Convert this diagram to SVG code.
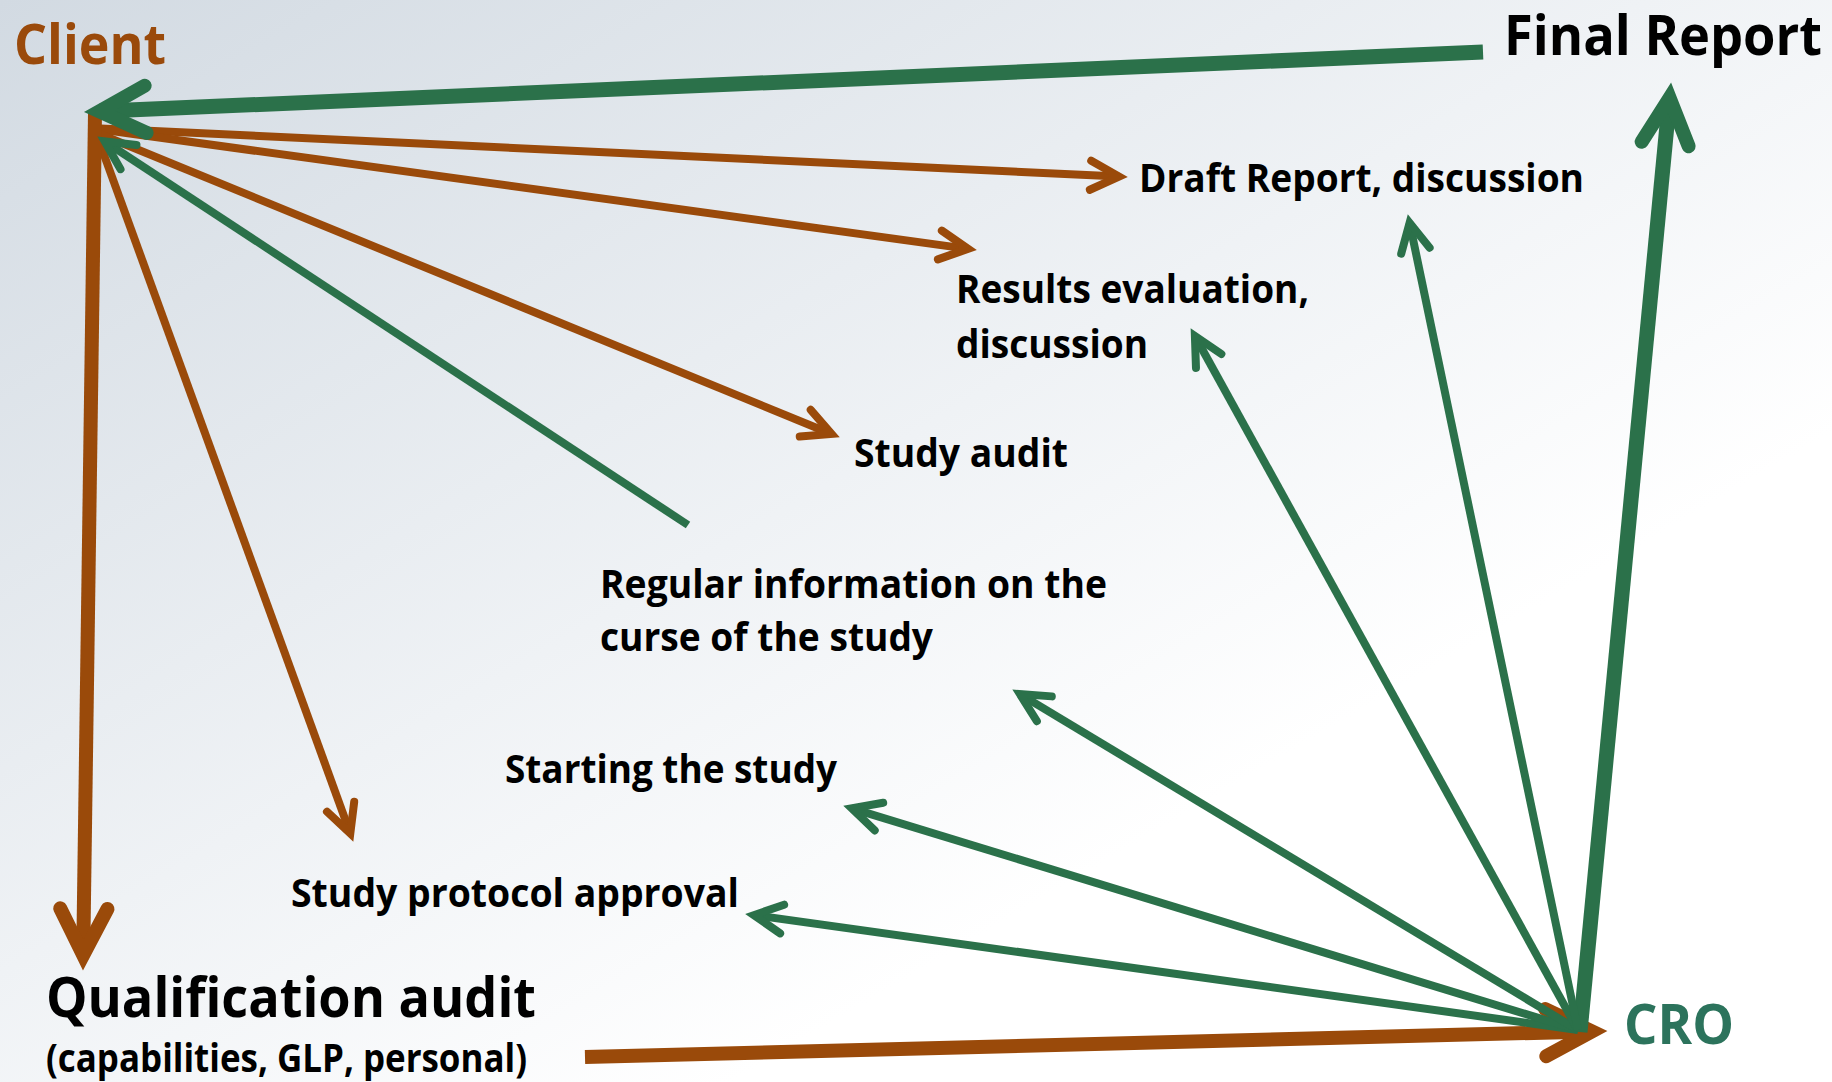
<svg xmlns="http://www.w3.org/2000/svg" width="1832" height="1082" viewBox="0 0 1832 1082">
  <defs>
    <linearGradient id="bg" x1="0" y1="0" x2="1" y2="1">
      <stop offset="0" stop-color="#D2DAE2"/>
      <stop offset="0.45" stop-color="#EFF2F5"/>
      <stop offset="0.7" stop-color="#FFFFFF"/>
      <stop offset="1" stop-color="#FFFFFF"/>
    </linearGradient>
    <marker id="ah-brown-thin" markerUnits="userSpaceOnUse" orient="auto" overflow="visible" markerWidth="10" markerHeight="10" refX="0" refY="0">
      <path d="M-28.5,-14.5 L0,0 L-28.5,14.5" class="ah brown" stroke-width="8"/>
    </marker>
    <marker id="ah-brown-thick" markerUnits="userSpaceOnUse" orient="auto" overflow="visible" markerWidth="10" markerHeight="10" refX="0" refY="0">
      <path d="M-46.3,-23.6 L0,0 L-46.3,23.6" class="ah brown" stroke-width="14"/>
    </marker>
    <marker id="ah-green-thin" markerUnits="userSpaceOnUse" orient="auto" overflow="visible" markerWidth="10" markerHeight="10" refX="0" refY="0">
      <path d="M-28.5,-14.5 L0,0 L-28.5,14.5" class="ah green" stroke-width="8"/>
    </marker>
    <marker id="ah-green-thick" markerUnits="userSpaceOnUse" orient="auto" overflow="visible" markerWidth="10" markerHeight="10" refX="0" refY="0">
      <path d="M-46.3,-23.6 L0,0 L-46.3,23.6" class="ah green" stroke-width="14"/>
    </marker>
  </defs>
  <style>
    .ah { fill: none; stroke-linecap: round; stroke-linejoin: miter; stroke-miterlimit: 4; }
    .ah.brown { stroke: #9A4A0A; }
    .ah.green { stroke: #2B714A; }
    .ln { fill: none; stroke-linecap: butt; }
    .b-thin { stroke: #9A4A0A; stroke-width: 8; marker-end: url(#ah-brown-thin); }
    .b-thick { stroke: #9A4A0A; stroke-width: 14; marker-end: url(#ah-brown-thick); }
    .g-thin { stroke: #2B714A; stroke-width: 8; marker-end: url(#ah-green-thin); }
    .g-thick { stroke: #2B714A; stroke-width: 15; marker-end: url(#ah-green-thick); }
    text { font-family: "Open Sans", "Noto Sans", "Liberation Sans", sans-serif; font-weight: bold; }
    .big { font-size: 56px; }
    .mid { font-size: 39px; }
    .lbl { fill: #000000; }
    .client { fill: #9A4A0B; }
    .cro { fill: #2C735C; }
  </style>

  <rect x="0" y="0" width="1832" height="1082" fill="url(#bg)"/>

  <g id="connectors">
    <!-- brown: Client side -->
    <line class="ln b-thin" x1="90" y1="128" x2="1119" y2="176.6"/>
    <line class="ln b-thin" x1="90" y1="128" x2="968.1" y2="248.9"/>
    <line class="ln b-thin" x1="90" y1="130" x2="831.6" y2="434"/>
    <line class="ln b-thin" x1="95" y1="130" x2="350.3" y2="833.5"/>
    <line class="ln b-thick" x1="95" y1="113" x2="83.2" y2="955"/>
    <line class="ln b-thick" x1="585" y1="1057" x2="1592" y2="1031.4"/>
    <!-- green: CRO side -->
    <line class="ln g-thick" x1="1483" y1="52" x2="99.4" y2="111.3"/>
    <line class="ln g-thick" x1="1580" y1="1032" x2="1669.6" y2="97.9"/>
    <line class="ln g-thin" x1="688" y1="525" x2="104.7" y2="141.4"/>
    <line class="ln g-thin" x1="1578" y1="1030" x2="753.9" y2="915.1"/>
    <line class="ln g-thin" x1="1578" y1="1030" x2="851.7" y2="808.3"/>
    <line class="ln g-thin" x1="1578" y1="1030" x2="1019.9" y2="694.1"/>
    <line class="ln g-thin" x1="1578" y1="1030" x2="1194.9" y2="336"/>
    <line class="ln g-thin" x1="1578" y1="1030" x2="1409.6" y2="222.8"/>
  </g>

  <g id="node-client">
    <text class="big client" x="14" y="64" textLength="152" lengthAdjust="spacingAndGlyphs">Client</text>
  </g>
  <g id="node-final-report">
    <text class="big lbl" x="1504" y="55" textLength="318" lengthAdjust="spacingAndGlyphs">Final Report</text>
  </g>
  <g id="node-draft-report">
    <text class="mid lbl" x="1139" y="192" textLength="445" lengthAdjust="spacingAndGlyphs">Draft Report, discussion</text>
  </g>
  <g id="node-results">
    <text class="mid lbl" x="956" y="303" textLength="353" lengthAdjust="spacingAndGlyphs">Results evaluation,</text>
    <text class="mid lbl" x="956" y="358" textLength="192" lengthAdjust="spacingAndGlyphs">discussion</text>
  </g>
  <g id="node-study-audit">
    <text class="mid lbl" x="854" y="467" textLength="214" lengthAdjust="spacingAndGlyphs">Study audit</text>
  </g>
  <g id="node-regular-info">
    <text class="mid lbl" x="600" y="598" textLength="507" lengthAdjust="spacingAndGlyphs">Regular information on the</text>
    <text class="mid lbl" x="600" y="651" textLength="333" lengthAdjust="spacingAndGlyphs">curse of the study</text>
  </g>
  <g id="node-starting">
    <text class="mid lbl" x="505" y="783" textLength="332" lengthAdjust="spacingAndGlyphs">Starting the study</text>
  </g>
  <g id="node-protocol">
    <text class="mid lbl" x="291" y="907" textLength="448" lengthAdjust="spacingAndGlyphs">Study protocol approval</text>
  </g>
  <g id="node-qualification">
    <text class="big lbl" x="46" y="1017" textLength="490" lengthAdjust="spacingAndGlyphs">Qualification audit</text>
    <text class="mid lbl" x="46" y="1072" textLength="481" lengthAdjust="spacingAndGlyphs">(capabilities, GLP, personal)</text>
  </g>
  <g id="node-cro">
    <text class="big cro" x="1624" y="1044" textLength="110" lengthAdjust="spacingAndGlyphs">CRO</text>
  </g>
</svg>
